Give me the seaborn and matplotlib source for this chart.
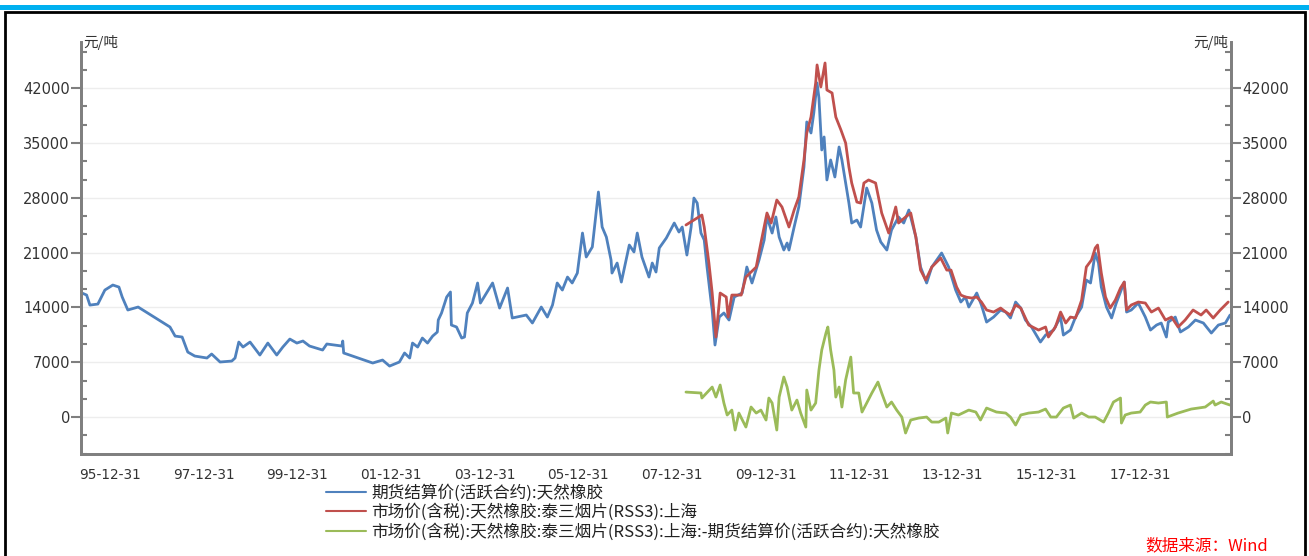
import matplotlib
matplotlib.use("Agg")
import matplotlib.pyplot as plt
import matplotlib.dates as mdates
from matplotlib.patches import Rectangle
from matplotlib.ticker import MultipleLocator, FixedLocator
import numpy as np
import pandas as pd
import seaborn as sns

# 期货结算价(活跃合约):天然橡胶  (decimal year, 元/吨)
fut_t = [1995.40, 1995.50, 1995.57, 1995.74, 1995.89, 1996.06, 1996.19, 1996.26, 1996.38, 1996.60,
         1997.28, 1997.39, 1997.54, 1997.66, 1997.81, 1998.07, 1998.17, 1998.35, 1998.60, 1998.67,
         1998.75, 1998.84, 1998.99, 1999.20, 1999.37, 1999.56, 1999.69, 1999.84, 1999.99, 2000.12,
         2000.26, 2000.54, 2000.63, 2000.95, 2000.97, 2000.99, 2001.61, 2001.82, 2001.97, 2002.18,
         2002.29, 2002.40, 2002.46, 2002.57, 2002.67, 2002.78, 2002.89, 2002.99, 2003.01, 2003.08,
         2003.19, 2003.27, 2003.29, 2003.40, 2003.51, 2003.57, 2003.63, 2003.74, 2003.85, 2003.91,
         2004.04, 2004.17, 2004.32, 2004.49, 2004.59, 2004.89, 2005.02, 2005.21, 2005.34, 2005.45,
         2005.55, 2005.66, 2005.77, 2005.87, 2005.98, 2006.09, 2006.17, 2006.30, 2006.38, 2006.43,
         2006.51, 2006.60, 2006.70, 2006.72, 2006.83, 2006.92, 2007.09, 2007.19, 2007.26, 2007.36,
         2007.51, 2007.58, 2007.66, 2007.73, 2007.88, 2008.05, 2008.15, 2008.22, 2008.32, 2008.41,
         2008.47, 2008.54, 2008.62, 2008.69, 2008.75, 2008.84, 2008.86, 2008.92, 2009.01, 2009.11,
         2009.22, 2009.33, 2009.50, 2009.60, 2009.71, 2009.86, 2009.97, 2010.03, 2010.14, 2010.22,
         2010.29, 2010.39, 2010.46, 2010.50, 2010.61, 2010.71, 2010.82, 2010.88, 2010.97, 2011.03,
         2011.10, 2011.14, 2011.20, 2011.25, 2011.31, 2011.39, 2011.48, 2011.57, 2011.63, 2011.71,
         2011.78, 2011.84, 2011.95, 2012.03, 2012.16, 2012.27, 2012.37, 2012.46, 2012.59, 2012.69,
         2012.84, 2012.95, 2013.06, 2013.21, 2013.31, 2013.44, 2013.55, 2013.70, 2013.76, 2013.91,
         2014.06, 2014.17, 2014.27, 2014.34, 2014.51, 2014.61, 2014.72, 2014.87, 2015.02, 2015.13,
         2015.23, 2015.34, 2015.45, 2015.55, 2015.68, 2015.87, 2015.98, 2016.15, 2016.30, 2016.36,
         2016.51, 2016.62, 2016.75, 2016.85, 2016.94, 2017.04, 2017.11, 2017.17, 2017.28, 2017.39,
         2017.49, 2017.58, 2017.66, 2017.71, 2017.81, 2017.96, 2018.11, 2018.22, 2018.35, 2018.45,
         2018.56, 2018.60, 2018.75, 2018.86, 2019.03, 2019.18, 2019.35, 2019.52, 2019.67, 2019.82,
         2019.92]
fut_v = [15840, 15580, 14300, 14430, 16220, 16860, 16600, 15330, 13670, 14050,
         11500, 10340, 10220, 8300, 7790, 7540, 8050, 7030, 7150, 7540,
         9580, 8940, 9580, 7920, 9450, 7920, 8940, 9960, 9450, 9710,
         9070, 8560, 9330, 9070, 9710, 8180, 6900, 7280, 6510, 7030,
         8180, 7540, 9450, 8940, 10090, 9450, 10340, 10860, 12390, 13290,
         15330, 15970, 11750, 11500, 10090, 10220, 13290, 14560, 17120, 14560,
         15840, 17120, 13920, 16480, 12650, 13030, 12010, 14050, 12770, 14310,
         17120, 16220, 17880, 17120, 18390, 23500, 20440, 21720, 26060, 28740,
         24270, 22990, 20050, 18390, 19670, 17240, 21970, 21080, 23500, 20440,
         17880, 19670, 18520, 21590, 22860, 24780, 23630, 24270, 20690, 24270,
         27970, 27330, 23500, 22610, 19160, 14560, 13670, 9200, 12770, 13290,
         12390, 15330, 15840, 19160, 17120, 20050, 22610, 25550, 23500, 25550,
         22990, 21330, 22230, 21330, 24270, 26830, 31940, 37690, 36280, 38830,
         42670, 40750, 34110, 35770, 30280, 32830, 30660, 34490, 32830, 29890,
         27330, 24780, 25160, 24270, 29250, 27330, 23890, 22360, 21330, 23890,
         25550, 24780, 26440, 22990, 19160, 17120, 19160, 20440, 20950, 19160,
         16220, 14690, 15330, 14050, 15840, 14310, 12130, 12770, 13670, 13410,
         12650, 14690, 13920, 12390, 11500, 9580, 10470, 11110, 12770, 10470,
         11110, 12770, 14050, 17500, 17120, 20950, 19670, 16610, 14050, 12650,
         14560, 15970, 17240, 13410, 13670, 14560, 12770, 11110, 11750, 12010,
         10220, 12130, 12770, 10860, 11500, 12390, 12010, 10730, 11750, 12010,
         13030]

# 市场价(含税):天然橡胶:泰三烟片(RSS3):上海
spot_t = [2008.30, 2008.64, 2008.69, 2008.79, 2008.86, 2008.94, 2009.03, 2009.16, 2009.20, 2009.28,
          2009.48, 2009.58, 2009.80, 2009.90, 2010.03, 2010.12, 2010.24, 2010.35, 2010.50, 2010.61,
          2010.71, 2010.82, 2010.88, 2010.97, 2011.07, 2011.10, 2011.18, 2011.27, 2011.31, 2011.42,
          2011.50, 2011.61, 2011.71, 2011.78, 2011.84, 2011.95, 2012.03, 2012.10, 2012.20, 2012.35,
          2012.48, 2012.63, 2012.78, 2012.84, 2012.99, 2013.10, 2013.21, 2013.31, 2013.42, 2013.55,
          2013.74, 2013.87, 2013.96, 2014.08, 2014.17, 2014.27, 2014.40, 2014.51, 2014.61, 2014.72,
          2014.87, 2015.02, 2015.13, 2015.23, 2015.34, 2015.45, 2015.62, 2015.83, 2015.98, 2016.04,
          2016.19, 2016.30, 2016.41, 2016.51, 2016.62, 2016.75, 2016.85, 2016.96, 2017.04, 2017.09,
          2017.17, 2017.26, 2017.36, 2017.47, 2017.58, 2017.66, 2017.71, 2017.81, 2017.96, 2018.11,
          2018.24, 2018.39, 2018.54, 2018.67, 2018.81, 2018.96, 2019.13, 2019.30, 2019.41, 2019.56,
          2019.71, 2019.88]
spot_v = [24530, 25800, 24270, 19670, 15840, 10220, 15840, 15330, 12770, 15580,
          15580, 17880, 19160, 22230, 26060, 24780, 27720, 26830, 24270, 26440,
          28100, 32830, 36280, 38320, 42670, 44970, 42160, 45220, 41770, 41390,
          38320, 36660, 35000, 31940, 29890, 27460, 27330, 29890, 30280, 29890,
          26060, 23500, 26830, 24780, 25550, 26060, 22990, 18770, 17500, 19160,
          20310, 18770, 18770, 16610, 15580, 15330, 15200, 15330, 14690, 13670,
          13410, 13920, 13410, 13030, 14310, 13920, 11750, 11110, 11500, 10220,
          11500, 13410, 12010, 12770, 12650, 14940, 19160, 20050, 21590, 21970,
          18390, 15330, 13920, 14940, 16480, 17240, 13670, 14310, 14690, 14560,
          13410, 13920, 12390, 12770, 11500, 12390, 13670, 13030, 13670, 12650,
          13670, 14690]

# 市场价(含税):天然橡胶:泰三烟片(RSS3):上海:-期货结算价(活跃合约):天然橡胶
basis_t = [2008.30, 2008.62, 2008.64, 2008.86, 2008.94, 2009.03, 2009.11, 2009.18, 2009.28, 2009.35,
           2009.43, 2009.58, 2009.69, 2009.80, 2009.90, 2010.01, 2010.07, 2010.14, 2010.24, 2010.29,
           2010.39, 2010.46, 2010.56, 2010.67, 2010.75, 2010.86, 2010.88, 2010.97, 2011.07, 2011.14,
           2011.20, 2011.29, 2011.33, 2011.39, 2011.46, 2011.50, 2011.57, 2011.63, 2011.71, 2011.82,
           2011.88, 2011.99, 2012.06, 2012.16, 2012.27, 2012.40, 2012.48, 2012.59, 2012.69, 2012.80,
           2012.91, 2012.99, 2013.10, 2013.27, 2013.44, 2013.55, 2013.70, 2013.85, 2013.89, 2013.97,
           2014.12, 2014.34, 2014.49, 2014.59, 2014.72, 2014.93, 2015.13, 2015.23, 2015.34, 2015.45,
           2015.62, 2015.83, 2015.98, 2016.09, 2016.21, 2016.36, 2016.51, 2016.58, 2016.75, 2016.90,
           2017.04, 2017.22, 2017.32, 2017.43, 2017.58, 2017.60, 2017.68, 2017.81, 2018.00, 2018.11,
           2018.22, 2018.39, 2018.56, 2018.58, 2018.81, 2019.09, 2019.39, 2019.56, 2019.60, 2019.73,
           2019.92]
basis_v = [3190, 3070, 2430, 3830, 2550, 4090, 1790, 260, 890, -1660,
           510, -1280, 1280, 510, 890, -380, 2430, 1790, -1660, 2550,
           5110, 3830, 890, 2170, 510, -1280, 3450, 890, 1790, 6000,
           8560, 10730, 11500, 8560, 6000, 2550, 3830, 1280, 4730, 7660,
           3070, 3070, 640, 1790, 3070, 4470, 3070, 1280, 1920, 890,
           0, -2040, -380, -130, 0, -640, -640, -130, -2040, 510,
           260, 890, 640, -380, 1150, 640, 510, 0, -1020, 260,
           510, 640, 1020, 0, 0, 1150, 1530, -130, 510, 0,
           0, -640, 510, 1920, 2430, -770, 260, 510, 640, 1530,
           1920, 1790, 1920, 0, 510, 1020, 1280, 2040, 1530, 1920,
           1530]

labels = ["期货结算价(活跃合约):天然橡胶",
          "市场价(含税):天然橡胶:泰三烟片(RSS3):上海",
          "市场价(含税):天然橡胶:泰三烟片(RSS3):上海:-期货结算价(活跃合约):天然橡胶"]
colors = ["#4f81bd", "#c0504d", "#9bbb59"]


def to_dates(years):
    years = np.asarray(years)
    return pd.to_datetime("1996-01-01") + pd.to_timedelta((years - 1996.0) * 365.25, unit="D")


sns.set_style("white")
cjk = ["Noto Sans CJK SC", "DejaVu Sans"]
plt.rcParams["font.family"] = cjk

fig = plt.figure(figsize=(13.09, 5.56), dpi=100)
ax = fig.add_axes([81 / 1309, 1 - 454 / 556, (1231 - 81) / 1309, (454 - 42) / 556])

series = [(fut_t, fut_v), (spot_t, spot_v), (basis_t, basis_v)]
for (t, v), lab, c in zip(series, labels, colors):
    df = pd.DataFrame({"date": to_dates(t), "value": v})
    sns.lineplot(data=df, x="date", y="value", ax=ax, color=c, linewidth=2.0,
                 label=lab, sort=False, estimator=None)

handles, lbls = ax.get_legend_handles_labels()
ax.get_legend().remove()

ymin, ymax = -4720, 47900
xmin, xmax = to_dates([1995.38, 2019.94])
ax.set_xlim(xmin, xmax)
ax.set_ylim(ymin, ymax)
ax.set_xlabel("")
ax.set_ylabel("")

spine_c = "#7f7f7f"
ax2 = ax.twinx()
ax2.set_ylim(ymin, ymax)
for a in (ax, ax2):
    a.yaxis.set_major_locator(MultipleLocator(7000))
    a.yaxis.set_minor_locator(MultipleLocator(7000 / 3))
    for s in a.spines.values():
        s.set_color(spine_c)
        s.set_linewidth(2)
    a.spines["top"].set_visible(False)
    a.tick_params(axis="y", which="major", direction="out", length=7, width=1.5,
                  color=spine_c, labelsize=10.5, labelcolor="#333333", pad=1)
    a.tick_params(axis="y", which="minor", direction="in", length=4, width=1.5, color=spine_c)
    for lab in a.get_yticklabels():
        lab.set_family("DejaVu Sans")
ax2.set_yticks([v for v in range(0, 42001, 7000)])
ax2.set_ylabel("")

ax.yaxis.grid(True, which="major", color="#ededed", linewidth=1)
ax.set_axisbelow(True)

major_dates = pd.to_datetime([f"{y}-12-31" for y in range(1995, 2018, 2)])
minor_dates = pd.to_datetime([f"{y}-12-31" for y in range(1995, 2020)])
ax.xaxis.set_major_locator(FixedLocator(mdates.date2num(major_dates)))
ax.xaxis.set_minor_locator(FixedLocator(mdates.date2num(minor_dates)))
ax.xaxis.set_major_formatter(mdates.DateFormatter("%y-%m-%d"))
ax.tick_params(axis="x", which="major", direction="out", length=7, width=1.5,
               color=spine_c, labelsize=9.8, labelcolor="#333333", pad=3)
ax.tick_params(axis="x", which="minor", direction="out", length=4, width=1.5, color=spine_c)
for lab in ax.get_xticklabels():
    lab.set_family("DejaVu Sans")

# unit labels
ax.annotate("元/吨", xy=(0, 1), xycoords="axes fraction", xytext=(2, 0),
            textcoords="offset points", ha="left", va="center", fontsize=10.5,
            color="#333333", family=cjk)
ax2.annotate("元/吨", xy=(1, 1), xycoords="axes fraction", xytext=(-2, 0),
             textcoords="offset points", ha="right", va="center", fontsize=10.5,
             color="#333333", family=cjk)

leg = fig.legend(handles, lbls, loc="upper left", bbox_to_anchor=(326 / 1309, 1 - 484 / 556),
                 frameon=False, borderpad=0, borderaxespad=0, handlelength=2.4,
                 handletextpad=0.3, labelspacing=0.12, prop={"family": cjk, "size": 12})
for t in leg.get_texts():
    t.set_color("#222222")
for h in leg.get_lines():
    h.set_linewidth(1.5)

# decorative frame like the report page
fig.patches.append(Rectangle((0, 1 - 9.5 / 556), 1, 4.5 / 556, transform=fig.transFigure,
                             facecolor="#00b0f0", edgecolor="none", zorder=0))
fig.patches.append(Rectangle((5 / 1309, -0.05), 1300 / 1309, 1 - 12.5 / 556 + 0.05,
                             transform=fig.transFigure, facecolor="none",
                             edgecolor="black", linewidth=2, zorder=0))

fig.text(1145 / 1309, 1 - 546 / 556, "数据来源：Wind", color="#ff0000", fontsize=12,
         ha="left", va="center", style="italic", family=cjk)

fig.savefig("out.png", dpi=100)
